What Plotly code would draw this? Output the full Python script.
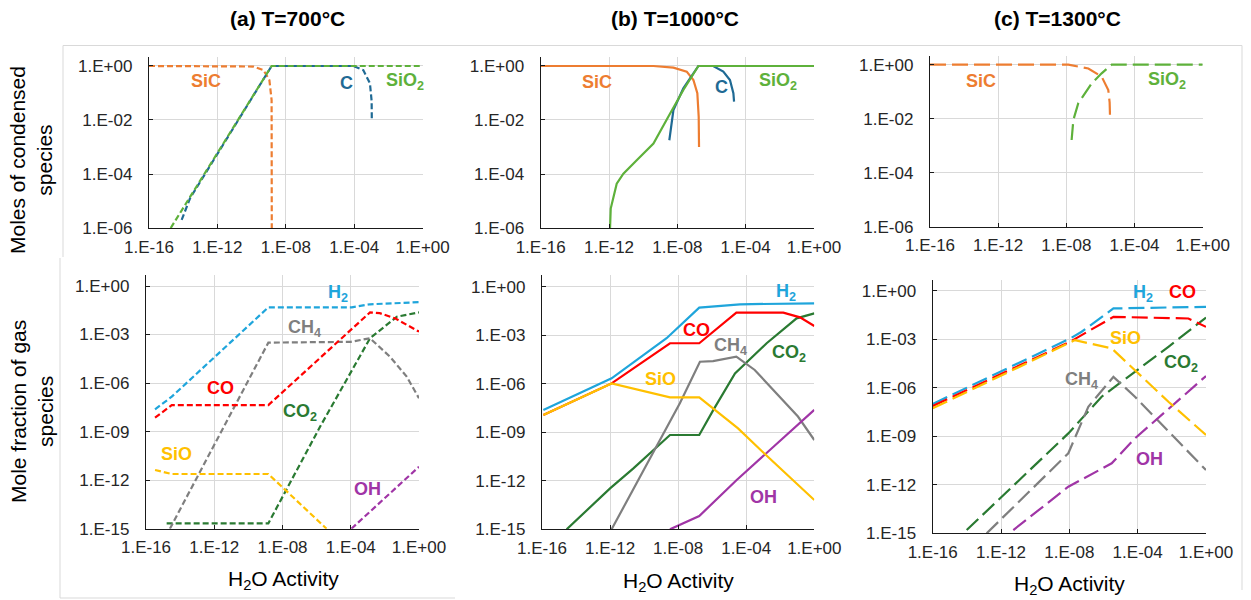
import numpy as np
import plotly.graph_objects as go

# ---------------------------------------------------------------
# Values are stored as log10 exponents: x = log10(H2O activity),
# y = log10(moles of condensed species / gas mole fraction)
# ---------------------------------------------------------------

# (a) T=700°C  condensed species
a_sic_x = [-16, -10.5, -9.9, -9.31, -8.96, -8.83, -8.82]
a_sic_y = [0, 0, -0.02, -0.15, -0.52, -1.26, -6.0]
a_c_x = [-14.09, -13.6, -8.83, -4.05, -3.47, -3.08, -2.98, -2.97]
a_c_y = [-5.7, -4.9, 0, 0, -0.15, -0.64, -1.3, -2.0]
a_sio2_x = [-14.73, -8.83, 0]
a_sio2_y = [-6.0, 0, 0]

# (b) T=1000°C  condensed species
b_sic_x = [-16, -9.4, -8.23, -7.45, -7.06, -6.83, -6.75, -6.73]
b_sic_y = [0, 0, -0.06, -0.21, -0.52, -1.01, -1.88, -3.0]
b_c_x = [-8.47, -8.23, -7.65, -6.77, -5.9, -5.31, -4.92, -4.72, -4.68]
b_c_y = [-2.75, -1.63, -0.83, 0, 0, -0.21, -0.52, -1.01, -1.32]
b_sio2_x = [-11.94, -11.9, -11.55, -11.16, -10.38, -9.4, -8.53, -7.65, -6.77, 0]
b_sio2_y = [-6.0, -5.28, -4.36, -3.99, -3.49, -2.87, -1.88, -0.89, 0, 0]

# (c) T=1300°C  condensed species
c_sic_x = [-16, -7.88, -6.71, -5.93, -5.54, -5.46, -5.44]
c_sic_y = [0, 0, -0.14, -0.44, -0.94, -1.4, -1.86]
c_sio2_x = [-7.69, -7.59, -7.3, -6.51, -5.93, -5.34, 0]
c_sio2_y = [-2.79, -2.05, -1.43, -0.69, -0.32, 0, 0]

# (a) T=700°C  gas species
ga_h2_x = [-15.47, -14.49, -8.83, -3.94, -2.87, 0]
ga_h2_y = [-7.62, -6.84, -1.32, -1.32, -1.13, -1.0]
ga_co_x = [-15.47, -14.49, -8.83, -2.87, -2.3, -1.4, 0]
ga_co_y = [-8.14, -7.36, -7.36, -1.63, -1.68, -2.0, -2.82]
ga_ch4_x = [-14.6, -8.83, -4.0, -2.87, -1.7, -0.72, 0]
ga_ch4_y = [-15.0, -3.5, -3.45, -3.23, -4.37, -5.6, -6.94]
ga_co2_x = [-14.79, -8.83, -5.8, -2.87, -1.3, 0]
ga_co2_y = [-14.67, -14.67, -8.7, -3.23, -1.9, -1.63]
ga_sio_x = [-15.47, -14.49, -8.83, -5.42]
ga_sio_y = [-11.37, -11.62, -11.62, -15.0]
ga_oh_x = [-3.96, 0]
ga_oh_y = [-15.0, -11.17]

# (b) T=1000°C  gas species
gb_h2_x = [-15.92, -11.91, -8.68, -6.76, -4.37, 0]
gb_h2_y = [-7.62, -5.67, -3.19, -1.30, -1.09, -1.03]
gb_co_x = [-15.92, -11.91, -8.48, -6.76, -4.58, -1.82, -0.84, 0]
gb_co_y = [-7.93, -5.98, -3.5, -3.5, -1.61, -1.61, -1.9, -2.43]
gb_sio_x = [-15.92, -11.91, -8.48, -6.76, -4.48, -2.95, 0]
gb_sio_y = [-7.93, -5.98, -6.84, -6.84, -8.76, -10.3, -13.19]
gb_ch4_x = [-11.91, -7.9, -6.72, -5.95, -4.58, -3.5, -0.96, 0]
gb_ch4_y = [-15.0, -7.21, -4.64, -4.6, -4.33, -5.15, -8.03, -9.48]
gb_co2_x = [-14.55, -12.0, -10.63, -8.48, -6.76, -5.93, -4.66, -2.8, -1.04, 0]
gb_co2_y = [-15.0, -12.47, -11.23, -9.17, -9.17, -7.62, -5.36, -3.5, -1.96, -1.65]
gb_oh_x = [-8.48, -6.76, -4.56, 0]
gb_oh_y = [-15.0, -14.18, -11.95, -7.62]

# (c) T=1300°C  gas species
gc_h2_x = [-16, -7.96, -7.28, -5.42, 0]
gc_h2_y = [-7.0, -2.95, -2.53, -1.09, -0.99]
gc_co_x = [-16, -7.96, -5.42, -1.03, 0]
gc_co_y = [-7.13, -3.15, -1.61, -1.71, -2.23]
gc_sio_x = [-16, -7.96, -7.67, -5.52, -4.16, -2.2, 0]
gc_sio_y = [-7.27, -3.15, -3.05, -3.56, -4.9, -6.86, -8.92]
gc_ch4_x = [-12.84, -8.06, -6.89, -5.42, -4.16, 0]
gc_ch4_y = [-15.0, -10.05, -7.17, -5.32, -6.55, -11.09]
gc_co2_x = [-14.01, -8.06, -6.11, -2.2, 0]
gc_co2_y = [-14.8, -8.82, -6.55, -3.46, -1.65]
gc_oh_x = [-11.28, -8.06, -5.52, -4.16, 0]
gc_oh_y = [-14.8, -12.12, -10.67, -9.13, -5.27]

# axis ticks
x_tick_exp = [-16, -12, -8, -4, 0]
x_tick_text = ["1.E-16", "1.E-12", "1.E-08", "1.E-04", "1.E+00"]
top_tick_exp = [0, -2, -4, -6]
top_tick_text = ["1.E+00", "1.E-02", "1.E-04", "1.E-06"]
bot_tick_exp = [0, -3, -6, -9, -12, -15]
bot_tick_text = ["1.E+00", "1.E-03", "1.E-06", "1.E-09", "1.E-12", "1.E-15"]

panel_titles = ["(a) T=700°C", "(b) T=1000°C", "(c) T=1300°C"]

# colours
ORANGE = "#ED7D31"
GREEN = "#5EB13B"
DKBLUE = "#1F6A94"
H2BLUE = "#1FA5DB"
RED = "#FF0000"
GRAY = "#7F7F7F"
DKGREEN = "#2A7A32"
YELLOW = "#FFC000"
PURPLE = "#A035A6"

W, H = 1251, 600
FONT = "Liberation Sans, Arial, sans-serif"


def fx(px):
    return px / W


def fy(py):
    return 1 - py / H


fig = go.Figure()

# subplot layout in pixels: (x_left, x_right, y_bottom, y_top, y_range)
subplots = [
    (149.0, 422.6, 228.0, 57.0, [-6, 0.333]),
    (540.7, 814.0, 228.0, 57.0, [-6, 0.333]),
    (930.0, 1202.7, 226.7, 55.7, [-6, 0.333]),
    (146.0, 419.0, 528.7, 275.0, [-15, 0.68]),
    (542.0, 814.3, 529.3, 275.0, [-15, 0.72]),
    (932.7, 1206.0, 533.3, 280.0, [-15, 0.67]),
]

for i, (xl, xr, yb, yt, yr) in enumerate(subplots, start=1):
    sfx = "" if i == 1 else str(i)
    top = i <= 3
    fig.layout["xaxis" + sfx] = dict(
        type="log", range=[-16, 0.0001], domain=[fx(xl), fx(xr)],
        anchor="y" + sfx, tickvals=[10.0 ** e for e in x_tick_exp],
        ticktext=x_tick_text, showgrid=True, gridcolor="#D9D9D9", gridwidth=1,
        showline=True, linecolor="#1A1A1A", linewidth=1.3, ticks="inside",
        ticklen=4, tickcolor="#1A1A1A", zeroline=False, automargin=False,
        tickfont=dict(family=FONT, size=17, color="#262626"),
        ticklabelstandoff=3, fixedrange=True,
    )
    fig.layout["yaxis" + sfx] = dict(
        type="log", range=yr, domain=[fy(yb), fy(yt)], anchor="x" + sfx,
        tickvals=[10.0 ** e for e in (top_tick_exp if top else bot_tick_exp)],
        ticktext=top_tick_text if top else bot_tick_text,
        showgrid=True, gridcolor="#D9D9D9", gridwidth=1,
        showline=True, linecolor="#1A1A1A", linewidth=1.3, ticks="inside",
        ticklen=4, tickcolor="#1A1A1A", zeroline=False, automargin=False,
        tickfont=dict(family=FONT, size=17, color="#262626"),
        ticklabelstandoff=12, fixedrange=True,
    )


def add_line(idx, xs, ys, color, dash):
    sfx = "" if idx == 1 else str(idx)
    fig.add_trace(go.Scatter(
        x=10.0 ** np.array(xs, dtype=float), y=10.0 ** np.array(ys, dtype=float),
        mode="lines", line=dict(color=color, width=2.2, dash=dash),
        xaxis="x" + sfx, yaxis="y" + sfx, showlegend=False, hoverinfo="skip",
    ))


def add_label(idx, lx, ly, text, color):
    sfx = "" if idx == 1 else str(idx)
    fig.add_annotation(
        x=lx, y=ly, xref="x" + sfx, yref="y" + sfx, text=text, showarrow=False,
        font=dict(family=FONT, size=18, color=color), xanchor="center", yanchor="middle",
    )


DA = "6px,3px"      # 700 °C: short dashes
DC = "16px,6px"     # 1300 °C: long dashes

# condensed species
add_line(1, a_sic_x, a_sic_y, ORANGE, DA)
add_line(1, a_c_x, a_c_y, DKBLUE, DA)
add_line(1, a_sio2_x, a_sio2_y, GREEN, DA)
add_line(2, b_sic_x, b_sic_y, ORANGE, "solid")
add_line(2, b_c_x, b_c_y, DKBLUE, "solid")
add_line(2, b_sio2_x, b_sio2_y, GREEN, "solid")
add_line(3, c_sic_x, c_sic_y, ORANGE, DC)
add_line(3, c_sio2_x, c_sio2_y, GREEN, DC)

# gas species
for idx, dash, series in [
    (4, DA, [(ga_co2_x, ga_co2_y, DKGREEN), (ga_ch4_x, ga_ch4_y, GRAY),
             (ga_sio_x, ga_sio_y, YELLOW), (ga_oh_x, ga_oh_y, PURPLE),
             (ga_co_x, ga_co_y, RED), (ga_h2_x, ga_h2_y, H2BLUE)]),
    (5, "solid", [(gb_co2_x, gb_co2_y, DKGREEN), (gb_ch4_x, gb_ch4_y, GRAY),
                  (gb_oh_x, gb_oh_y, PURPLE), (gb_h2_x, gb_h2_y, H2BLUE),
                  (gb_co_x, gb_co_y, RED), (gb_sio_x, gb_sio_y, YELLOW)]),
    (6, DC, [(gc_co2_x, gc_co2_y, DKGREEN), (gc_ch4_x, gc_ch4_y, GRAY),
             (gc_oh_x, gc_oh_y, PURPLE), (gc_h2_x, gc_h2_y, H2BLUE),
             (gc_co_x, gc_co_y, RED), (gc_sio_x, gc_sio_y, YELLOW)]),
]:
    for xs, ys, col in series:
        add_line(idx, xs, ys, col, dash)

# curve labels
add_label(1, -12.68, -0.56, "<b>SiC</b>", ORANGE)
add_label(1, -4.44, -0.64, "<b>C</b>", DKBLUE)
add_label(1, -1.03, -0.58, "<b>SiO<sub>2</sub></b>", GREEN)
add_label(2, -12.69, -0.58, "<b>SiC</b>", ORANGE)
add_label(2, -5.4, -0.79, "<b>C</b>", DKBLUE)
add_label(2, -2.09, -0.58, "<b>SiO<sub>2</sub></b>", GREEN)
add_label(3, -13.02, -0.59, "<b>SiC</b>", ORANGE)
add_label(3, -2.11, -0.6, "<b>SiO<sub>2</sub></b>", GREEN)

add_label(4, -4.76, -0.45, "<b>H<sub>2</sub></b>", H2BLUE)
add_label(4, -6.74, -2.62, "<b>CH<sub>4</sub></b>", GRAY)
add_label(4, -11.66, -6.33, "<b>CO</b>", RED)
add_label(4, -6.97, -7.83, "<b>CO<sub>2</sub></b>", DKGREEN)
add_label(4, -14.24, -10.4, "<b>SiO</b>", YELLOW)
add_label(4, -3.0, -12.57, "<b>OH</b>", PURPLE)

add_label(5, -1.68, -0.37, "<b>H<sub>2</sub></b>", H2BLUE)
add_label(5, -6.95, -2.68, "<b>CO</b>", RED)
add_label(5, -4.95, -3.71, "<b>CH<sub>4</sub></b>", GRAY)
add_label(5, -1.49, -4.12, "<b>CO<sub>2</sub></b>", DKGREEN)
add_label(5, -9.03, -5.7, "<b>SiO</b>", YELLOW)
add_label(5, -2.96, -13.0, "<b>OH</b>", PURPLE)

add_label(6, -3.67, -0.16, "<b>H<sub>2</sub></b>", H2BLUE)
add_label(6, -1.39, -0.1, "<b>CO</b>", RED)
add_label(6, -4.7, -2.94, "<b>SiO</b>", YELLOW)
add_label(6, -1.46, -4.49, "<b>CO<sub>2</sub></b>", DKGREEN)
add_label(6, -7.28, -5.56, "<b>CH<sub>4</sub></b>", GRAY)
add_label(6, -3.28, -10.4, "<b>OH</b>", PURPLE)

# panel titles
for (cx, cy), t in zip([(287, 18), (675, 18), (1057, 18)], panel_titles):
    fig.add_annotation(x=fx(cx), y=fy(cy), xref="paper", yref="paper", text="<b>" + t + "</b>",
                       showarrow=False, font=dict(family=FONT, size=21, color="#000000"),
                       xanchor="center", yanchor="middle")

# x-axis titles
for cx, cy in [(283, 580), (678, 582), (1069, 585)]:
    fig.add_annotation(x=fx(cx), y=fy(cy), xref="paper", yref="paper",
                       text="H<sub>2</sub>O Activity", showarrow=False,
                       font=dict(family=FONT, size=21, color="#000000"),
                       xanchor="center", yanchor="middle")

# y-axis titles
for (cx, cy), t in zip([(31, 160), (32, 412)],
                       ["Moles of condensed<br>species", "Mole fraction of gas<br>species"]):
    fig.add_annotation(x=fx(cx), y=fy(cy), xref="paper", yref="paper", text=t,
                       showarrow=False, textangle=-90,
                       font=dict(family=FONT, size=21, color="#000000"),
                       xanchor="center", yanchor="middle")

# faint chart-area borders
border = dict(color="#D9D9D9", width=1)
for x0, y0, x1, y1 in [(63, 45.5, 1242, 45.5), (63, 45.5, 63, 257),
                       (60, 258, 60, 598), (60, 598, 455, 598),
                       (1242, 45.5, 1242, 590)]:
    fig.add_shape(type="line", xref="paper", yref="paper", x0=fx(x0), y0=fy(y0),
                  x1=fx(x1), y1=fy(y1), line=border, layer="below")

fig.update_layout(
    width=W, height=H, margin=dict(l=0, r=0, t=0, b=0, autoexpand=False),
    paper_bgcolor="white", plot_bgcolor="white", showlegend=False,
    font=dict(family=FONT),
)

fig.write_html("out.html")
